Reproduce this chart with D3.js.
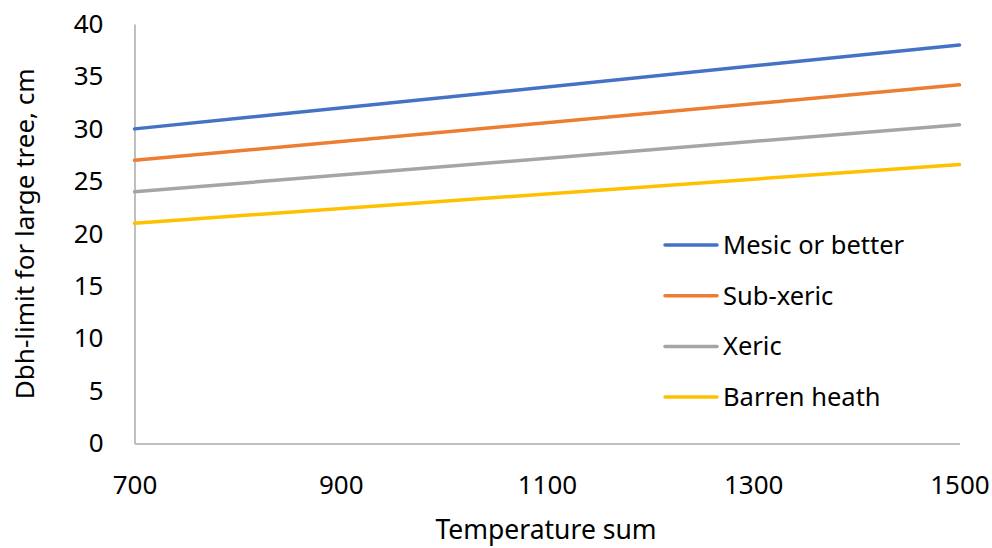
<!DOCTYPE html>
<html>
<head>
<meta charset="utf-8">
<script src="https://cdn.jsdelivr.net/npm/d3@7"></script>
<style>
  html, body { margin: 0; padding: 0; background: #fff; }
  svg { display: block; }
  text { font-family: "Noto Sans", "Open Sans", sans-serif; fill: #000; }
</style>
</head>
<body>
<script>
// Dbh-limit for a large tree by temperature sum, per site fertility class
const temperatureSum = [700, 1500];
const seriesNames = ["Mesic or better", "Sub-xeric", "Xeric", "Barren heath"];
const mesic = [30, 38];
const subXeric = [27, 34.2];
const xeric = [24, 30.4];
const barrenHeath = [21, 26.6];
const xTicks = [700, 900, 1100, 1300, 1500];
const yTicks = [0, 5, 10, 15, 20, 25, 30, 35, 40];
const colors = ["#4472c4", "#ed7d31", "#a5a5a5", "#ffc000"];

const seriesValues = [mesic, subXeric, xeric, barrenHeath];
const series = seriesNames.map((name, i) => ({
  name, color: colors[i],
  points: temperatureSum.map((t, j) => ({ x: t, y: seriesValues[i][j] }))
}));

const W = 992, H = 548;
const svg = d3.select("body").append("svg").attr("width", W).attr("height", H);

const x = d3.scaleLinear().domain([700, 1500]).range([134.5, 959.5]);
const y = d3.scaleLinear().domain([0, 40]).range([443.5, 24]);

const tickFs = 26, legendFs = 25.5;

// axes: plain grey lines, no tick marks
const xAxis = svg.append("g").attr("transform", `translate(0,${y(0)})`)
  .call(d3.axisBottom(x).tickValues(xTicks).tickSize(0).tickPadding(32).tickFormat(d3.format("d")));
xAxis.select(".domain").attr("stroke", "#bfbfbf").attr("stroke-width", 2);
xAxis.selectAll("text").style("font-size", tickFs + "px").attr("fill", "#000")
  .style("font-family", '"Noto Sans", sans-serif');

const yAxis = svg.append("g").attr("transform", `translate(${x(700)},0)`)
  .call(d3.axisLeft(y).tickValues(yTicks).tickSize(0).tickPadding(31));
yAxis.select(".domain").attr("stroke", "#bfbfbf").attr("stroke-width", 2);
yAxis.selectAll("text").style("font-size", tickFs + "px").attr("fill", "#000")
  .style("font-family", '"Noto Sans", sans-serif');

// series lines
const line = d3.line().x(d => x(d.x)).y(d => y(d.y));
svg.append("g").selectAll("path").data(series).join("path")
  .attr("d", d => line(d.points))
  .attr("fill", "none")
  .attr("stroke", d => d.color)
  .attr("stroke-width", 3.5)
  .attr("stroke-linecap", "round");

// axis titles
svg.append("text")
  .attr("x", 546).attr("y", 539)
  .attr("text-anchor", "middle").style("font-size", "26.5px")
  .text("Temperature sum");

svg.append("text")
  .attr("transform", `translate(34,${(y(0) + y(40)) / 2}) rotate(-90)`)
  .attr("text-anchor", "middle").style("font-size", "26px")
  .text("Dbh-limit for large tree, cm");

// legend
const legend = svg.append("g").attr("transform", "translate(665,245)");
const item = legend.selectAll("g").data(series).join("g")
  .attr("transform", (d, i) => `translate(0,${i * 50.7})`);
item.append("line")
  .attr("x1", 0).attr("x2", 52).attr("y1", 0).attr("y2", 0)
  .attr("stroke", d => d.color).attr("stroke-width", 3.5).attr("stroke-linecap", "round");
item.append("text")
  .attr("x", 58).attr("y", 0).attr("dy", "0.35em")
  .style("font-size", legendFs + "px")
  .text(d => d.name);
</script>
</body>
</html>
